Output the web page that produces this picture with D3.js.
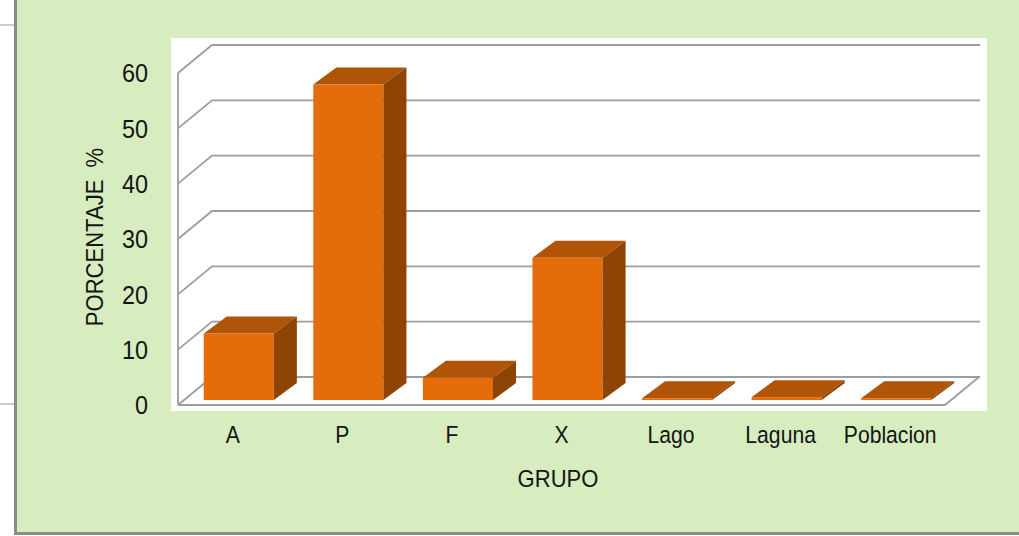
<!DOCTYPE html>
<html>
<head>
<meta charset="utf-8">
<script src="https://cdn.jsdelivr.net/npm/d3@7"></script>
<style>
  html, body { margin: 0; padding: 0; background: #fff; }
  svg { display: block; }
  text { font-family: "Liberation Sans", Arial, sans-serif; fill: #141414; }
</style>
</head>
<body>
<svg id="chart" width="1019" height="536"></svg>
<script>
/* datos */
const categories = ["A", "P", "F", "X", "Lago", "Laguna", "Poblacion"];
const values     = [12, 57, 4, 25.7, 0.3, 0.5, 0.3];
const yTicks     = [0, 10, 20, 30, 40, 50, 60];

/* opciones */
const W = 1019, H = 536;
const depth = { dx: 34, dy: -28 };
const barOff = { dx: 6, dy: -5 };
const barDepth = { dx: 23, dy: -17 };
const front = { x0: 178, x1: 945, y0: 405, y1: 73 };
const narrow = 0.9;   // fuente algo estrecha

const svg = d3.select("#chart");

// fondo verde y marco
svg.append("rect").attr("x", 15).attr("y", 0).attr("width", W - 15).attr("height", 533).attr("fill", "#d7ecbf");
svg.append("line").attr("x1", 0).attr("x2", 14).attr("y1", 25).attr("y2", 25).attr("stroke", "#999").attr("stroke-width", 1);
svg.append("line").attr("x1", 0).attr("x2", 14).attr("y1", 404).attr("y2", 404).attr("stroke", "#999").attr("stroke-width", 1);
svg.append("line").attr("x1", 15.5).attr("x2", 15.5).attr("y1", 0).attr("y2", 534).attr("stroke", "#8a8a8a").attr("stroke-width", 3);
svg.append("line").attr("x1", 14).attr("x2", W).attr("y1", 533.5).attr("y2", 533.5).attr("stroke", "#8a8a8a").attr("stroke-width", 3);

// area del grafico
svg.append("rect").attr("x", 171).attr("y", 38).attr("width", 816).attr("height", 373).attr("fill", "#fff");

const y = d3.scaleLinear().domain([0, 60]).range([front.y0, front.y1]);
const x = d3.scaleBand().domain(categories).range([front.x0, front.x1]).paddingInner(0.36).paddingOuter(0.18);

// lineas de cuadricula (pared trasera)
const grid = svg.append("g").attr("fill", "none").attr("stroke", "#9d9d9d").attr("stroke-width", 1.8);
yTicks.forEach(t => {
  const yf = y(t);
  grid.append("path")
    .attr("d", `M${front.x0},${yf}L${front.x0 + depth.dx},${yf + depth.dy}L${980},${yf + depth.dy}`);
});
// piso
grid.append("path")
  .attr("d", `M${front.x0},${y(0)}L${front.x1},${y(0)}L${front.x1 + depth.dx},${y(0) + depth.dy}`);
// eje vertical
grid.append("line").attr("x1", front.x0).attr("x2", front.x0).attr("y1", y(0)).attr("y2", y(60));

// barras 3D
const bars = svg.append("g");
categories.forEach((c, i) => {
  const v = values[i];
  const x0 = x(c) + barOff.dx, x1 = x0 + x.bandwidth();
  const yb = y(0) + barOff.dy, yt = y(v) + barOff.dy;
  const g = bars.append("g");
  g.append("rect").attr("x", x0).attr("y", yt).attr("width", x1 - x0).attr("height", Math.max(yb - yt, 1.5))
    .attr("fill", "#e46c0a");
  g.append("path")
    .attr("d", `M${x0},${yt}L${x0 + barDepth.dx},${yt + barDepth.dy}L${x1 + barDepth.dx},${yt + barDepth.dy}L${x1},${yt}Z`)
    .attr("fill", "#b05508");
  g.append("path")
    .attr("d", `M${x1},${yt}L${x1 + barDepth.dx},${yt + barDepth.dy}L${x1 + barDepth.dx},${yb + barDepth.dy}L${x1},${Math.max(yb, yt + 1.5)}Z`)
    .attr("fill", "#8e4404");
});

// etiquetas del eje Y
svg.append("g").attr("transform", `scale(${narrow},1)`)
  .selectAll("text").data(yTicks).join("text")
  .attr("x", 148 / narrow).attr("y", d => y(d)).attr("dy", "0.36em")
  .attr("text-anchor", "end").attr("font-size", 26)
  .text(d => d);

// etiquetas de categorias
svg.append("g").attr("transform", `scale(${narrow},1)`)
  .selectAll("text").data(categories).join("text")
  .attr("x", d => (x(d) + x.bandwidth() / 2) / narrow).attr("y", 443)
  .attr("text-anchor", "middle").attr("font-size", 23.5)
  .text(d => d);

// titulos
svg.append("text").attr("transform", `translate(558,487) scale(${narrow},1)`)
  .attr("text-anchor", "middle").attr("font-size", 24.5).text("GRUPO");
svg.append("text").attr("transform", `translate(103,237) rotate(-90) scale(${narrow},1)`).attr("text-anchor", "middle")
  .attr("font-size", 24.5).attr("xml:space", "preserve").text("PORCENTAJE  %");
</script>
</body>
</html>
